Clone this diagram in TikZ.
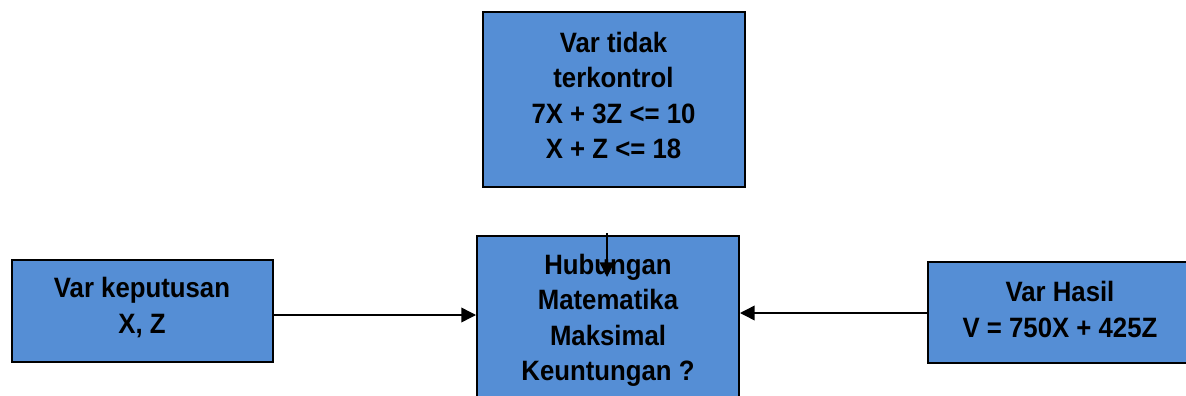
\documentclass[tikz,border=0pt]{standalone}
\usepackage{fontspec}
\setmainfont{Liberation Sans}[FakeStretch=0.92]
\usetikzlibrary{arrows.meta}
\definecolor{boxblue}{RGB}{85,142,213}
\tikzset{
  box/.style={draw=black, line width=1.5pt, fill=boxblue, inner sep=0pt},
  lbl/.style={inner sep=0pt, align=center, font=\fontsize{21pt}{26.6pt}\selectfont\bfseries},
  arr/.style={draw=black, line width=1.1pt, -{Triangle[length=11pt,width=11pt]}}
}
\begin{document}
\begin{tikzpicture}[x=0.75pt,y=-0.75pt]
\useasboundingbox (0,0) rectangle (1186,396);
\clip (0,0) rectangle (1186,396);
\node[box, minimum width=262*0.75pt, minimum height=175*0.75pt] (top) at (613.5,99.5) {};
\node[lbl, yshift=3pt] (topt) at (top.center) {Var tidak\\terkontrol\\7X + 3Z <= 10\\X + Z <= 18};
\node[box, minimum width=262*0.75pt, minimum height=163*0.75pt] (mid) at (608,317.5) {};
\node[lbl, yshift=-2.2pt] (midt) at (mid.center) {Hubungan\\Matematika\\Maksimal\\Keuntungan ?};
\node[box, minimum width=261*0.75pt, minimum height=102*0.75pt] (left) at (142,310.5) {};
\node[lbl, yshift=2.2pt] (leftt) at (left.center) {Var keputusan\\X, Z};
\node[box, minimum width=264*0.75pt, minimum height=101*0.75pt] (right) at (1060,312.5) {};
\node[lbl, yshift=2.2pt] (rightt) at (right.center) {Var Hasil\\V = 750X + 425Z};
\coordinate (vt) at (607,233);
\coordinate (vb) at (607,277);
\draw[arr] (vt) -- (vb);
\draw[arr] (left.east |- 0,315) -- (mid.west |- 0,315);
\draw[arr] (right.west |- 0,313) -- (mid.east |- 0,313);
\end{tikzpicture}
\end{document}
